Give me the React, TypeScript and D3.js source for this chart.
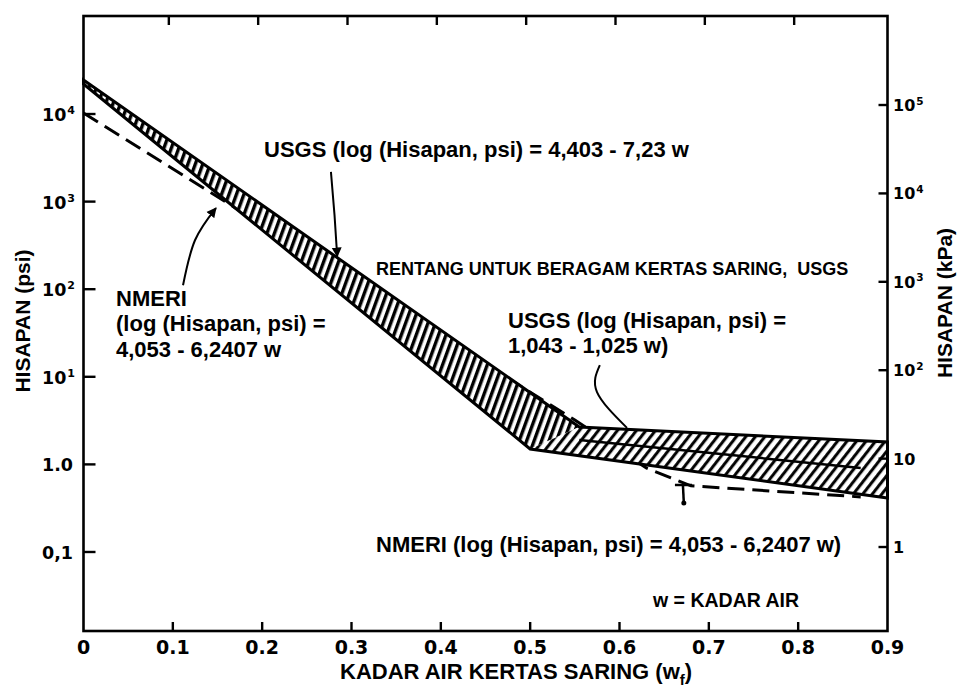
import React from "react";
import * as d3 from "d3";

// Filter-paper water content (w_f) on the horizontal axis
const moistureTicks = [0, 0.1, 0.2, 0.3, 0.4, 0.5, 0.6, 0.7, 0.8, 0.9];
const moistureTickLabels = ["0", "0.1", "0.2", "0.3", "0.4", "0.5", "0.6", "0.7", "0.8", "0.9"];

// Suction in psi (left) and kPa (right), labels as [base, exponent]
const psiTicks = [1e4, 1e3, 1e2, 1e1, 1, 0.1];
const psiTickLabels: [string, string][] = [["10", "4"], ["10", "3"], ["10", "2"], ["10", "1"], ["1.0", ""], ["0,1", ""]];
const kpaTicks = [1e5, 1e4, 1e3, 1e2, 10, 1];
const kpaTickLabels: [string, string][] = [["10", "5"], ["10", "4"], ["10", "3"], ["10", "2"], ["10", ""], ["1", ""]];

// USGS range band for different filter papers, [w, psi]
const bandSteepUpper: [number, number][] = [[0, 24400], [0.555, 2.67]];
const bandFlatUpper: [number, number][] = [[0.555, 2.67], [0.9, 1.8]];
const bandFlatLower: [number, number][] = [[0.9, 0.413], [0.5, 1.5]];
const bandSteepLower: [number, number][] = [[0.5, 1.5], [0, 22000]];
const bandInnerLine: [number, number][] = [[0.555, 1.9], [0.87, 0.91]];

// NMERI calibration (dashed)
const nmeriCurve: [number, number][] = [[0, 10260], [0.17, 845], [0.55, 3.21], [0.63, 0.91], [0.68, 0.57], [0.87, 0.425]];

// Leader lines for the equation labels, [w, psi]
const usgsUpperLeader: [number, number][] = [[0.277, 2180], [0.281, 700], [0.284, 236]];
const nmeriUpperLeader: [number, number][] = [[0.1114, 111], [0.1248, 362], [0.1483, 845]];
const usgsLowerLeader: [number, number][] = [[0.578, 13.6], [0.5748, 6.7], [0.6084, 2.61]];
const nmeriLowerLeader: [number, number][] = [[0.671, 0.582], [0.672, 0.363]];

const W = 959;
const H = 691;
const left = 83.5;
const right = 887.5;
const top = 16;
const bottom = 631;

const x = d3.scaleLinear().domain([0, 0.9]).range([left, right]);
const yPsi = d3.scaleLog().domain([0.01253, 131500]).range([bottom, top]);
const yKpa = d3.scaleLog().domain([0.1122, 1016000]).range([bottom, top]);

const straight = d3.line<[number, number]>().x((d) => x(d[0])).y((d) => yPsi(d[1]));
const smooth = d3
  .line<[number, number]>()
  .x((d) => x(d[0]))
  .y((d) => yPsi(d[1]))
  .curve(d3.curveNatural);

const labelFont = "'Liberation Sans', Arial, Helvetica, sans-serif";
const tickFont = "'DejaVu Sans', 'Liberation Sans', sans-serif";

export default function App() {
  const steepPoly = [...bandSteepUpper, bandSteepLower[0], bandSteepLower[1]];
  const flatPoly = [bandFlatUpper[0], bandFlatUpper[1], ...bandFlatLower];
  const outline = [...bandSteepUpper, bandFlatUpper[1], ...bandFlatLower, bandSteepLower[1]];

  return (
    <svg
      width={W}
      height={H}
      viewBox={`0 0 ${W} ${H}`}
      style={{ position: "absolute", left: 0, top: 0, background: "#fff" }}
    >
      <defs>
        <pattern id="hatchSteep" patternUnits="userSpaceOnUse" width="7" height="12" patternTransform="rotate(20)">
          <rect width="7" height="12" fill="#fff" />
          <line x1="1.7" y1="-1" x2="1.7" y2="13" stroke="#000" strokeWidth="3.4" />
        </pattern>
        <pattern id="hatchFlat" patternUnits="userSpaceOnUse" width="7.5" height="12" patternTransform="rotate(38)">
          <rect width="7.5" height="12" fill="#fff" />
          <line x1="1.6" y1="-1" x2="1.6" y2="13" stroke="#000" strokeWidth="3" />
        </pattern>
        <marker id="arrow" viewBox="0 0 10 10" refX="9" refY="5" markerWidth="5" markerHeight="6" orient="auto">
          <path d="M0,0 L10,5 L0,10 Z" fill="#000" />
        </marker>
      </defs>

      <rect x={0} y={0} width={W} height={H} fill="#fff" />

      {/* NMERI dashed calibration line */}
      <path d={straight(nmeriCurve) ?? ""} fill="none" stroke="#000" strokeWidth={3} strokeDasharray="17 8" />

      {/* USGS range band */}
      <path d={(straight(steepPoly) ?? "") + "Z"} fill="url(#hatchSteep)" stroke="none" />
      <path d={(straight(flatPoly) ?? "") + "Z"} fill="url(#hatchFlat)" stroke="none" />
      <path d={straight(bandInnerLine) ?? ""} fill="none" stroke="#000" strokeWidth={2.5} />
      <path d={(straight(outline) ?? "") + "Z"} fill="none" stroke="#000" strokeWidth={3} strokeLinejoin="miter" />

      {/* frame */}
      <rect x={left} y={top} width={right - left} height={bottom - top} fill="none" stroke="#000" strokeWidth={2.6} />

      {/* horizontal ticks (top and bottom) */}
      {moistureTicks.map((t, i) => (
        <g key={`xt${i}`}>
          {i > 0 && i < moistureTicks.length - 1 && (
            <>
              <line x1={x(t)} x2={x(t)} y1={bottom} y2={bottom - 9} stroke="#000" strokeWidth={2.4} />
              <line x1={x(t) - 4} x2={x(t) - 4} y1={top} y2={top + 9} stroke="#000" strokeWidth={2.4} />
            </>
          )}
          <text
            x={x(t)}
            y={654}
            textAnchor="middle"
            fontFamily={tickFont}
            fontWeight="bold"
            fontSize={19}
            fill="#000"
          >
            {moistureTickLabels[i]}
          </text>
        </g>
      ))}

      {/* left psi axis */}
      {psiTicks.map((t, i) => (
        <g key={`yl${i}`}>
          <line x1={left} x2={left + 12} y1={yPsi(t)} y2={yPsi(t)} stroke="#000" strokeWidth={2.4} />
          <text x={42} y={yPsi(t) + 7} fontFamily={tickFont} fontWeight="bold" fontSize={17.5} fill="#000">
            {psiTickLabels[i][0]}
            {psiTickLabels[i][1] && (
              <tspan fontSize={11} dy={-7} dx={1}>
                {psiTickLabels[i][1]}
              </tspan>
            )}
          </text>
        </g>
      ))}

      {/* right kPa axis */}
      {kpaTicks.map((t, i) => (
        <g key={`yr${i}`}>
          <line x1={right - 9} x2={right} y1={yKpa(t)} y2={yKpa(t)} stroke="#000" strokeWidth={2.4} />
          <text x={893} y={yKpa(t) + 6} fontFamily={tickFont} fontWeight="bold" fontSize={16} fill="#000">
            {kpaTickLabels[i][0]}
            {kpaTickLabels[i][1] && (
              <tspan fontSize={10.5} dy={-6.5} dx={1}>
                {kpaTickLabels[i][1]}
              </tspan>
            )}
          </text>
        </g>
      ))}

      {/* leaders */}
      <path d={smooth(usgsUpperLeader) ?? ""} fill="none" stroke="#000" strokeWidth={2} markerEnd="url(#arrow)" />
      <path d={smooth(nmeriUpperLeader) ?? ""} fill="none" stroke="#000" strokeWidth={2} markerEnd="url(#arrow)" />
      <path d={smooth(usgsLowerLeader) ?? ""} fill="none" stroke="#000" strokeWidth={2} />
      <path d={straight(nmeriLowerLeader) ?? ""} fill="none" stroke="#000" strokeWidth={2.5} />
      <circle cx={x(nmeriLowerLeader[1][0])} cy={yPsi(nmeriLowerLeader[1][1])} r={2.5} fill="#000" />
      <line
        x1={x(nmeriLowerLeader[0][0]) - 8}
        x2={x(nmeriLowerLeader[0][0]) + 9}
        y1={yPsi(nmeriLowerLeader[0][1])}
        y2={yPsi(nmeriLowerLeader[0][1])}
        stroke="#000"
        strokeWidth={2.5}
      />

      {/* annotations */}
      <g fontFamily={labelFont} fontWeight="bold" fill="#000">
        <text x={264} y={157} fontSize={22}>USGS (log (Hisapan, psi) = 4,403 - 7,23 w</text>
        <text x={376} y={275} fontSize={18} style={{ whiteSpace: "pre" }}>
          RENTANG UNTUK BERAGAM KERTAS SARING,  USGS
        </text>
        <text x={116} y={306} fontSize={22}>NMERI</text>
        <text x={116} y={331} fontSize={22}>(log (Hisapan, psi) =</text>
        <text x={116} y={357} fontSize={22}>4,053 - 6,2407 w</text>
        <text x={508} y={328} fontSize={22}>USGS (log (Hisapan, psi) =</text>
        <text x={508} y={353} fontSize={22}>1,043 - 1,025 w)</text>
        <text x={376} y={552} fontSize={22}>NMERI (log (Hisapan, psi) = 4,053 - 6,2407 w)</text>
        <text x={653} y={607} fontSize={19.5}>w = KADAR AIR</text>

        <text x={340} y={679} fontSize={22}>
          KADAR AIR KERTAS SARING (w
          <tspan fontSize={15} dy={6}>f</tspan>
          <tspan dy={-6}>)</tspan>
        </text>
        <text transform="translate(30,321) rotate(-90)" textAnchor="middle" fontSize={21}>
          HISAPAN (psi)
        </text>
        <text transform="translate(952,303) rotate(-90)" textAnchor="middle" fontSize={21}>
          HISAPAN (kPa)
        </text>
      </g>
    </svg>
  );
}
